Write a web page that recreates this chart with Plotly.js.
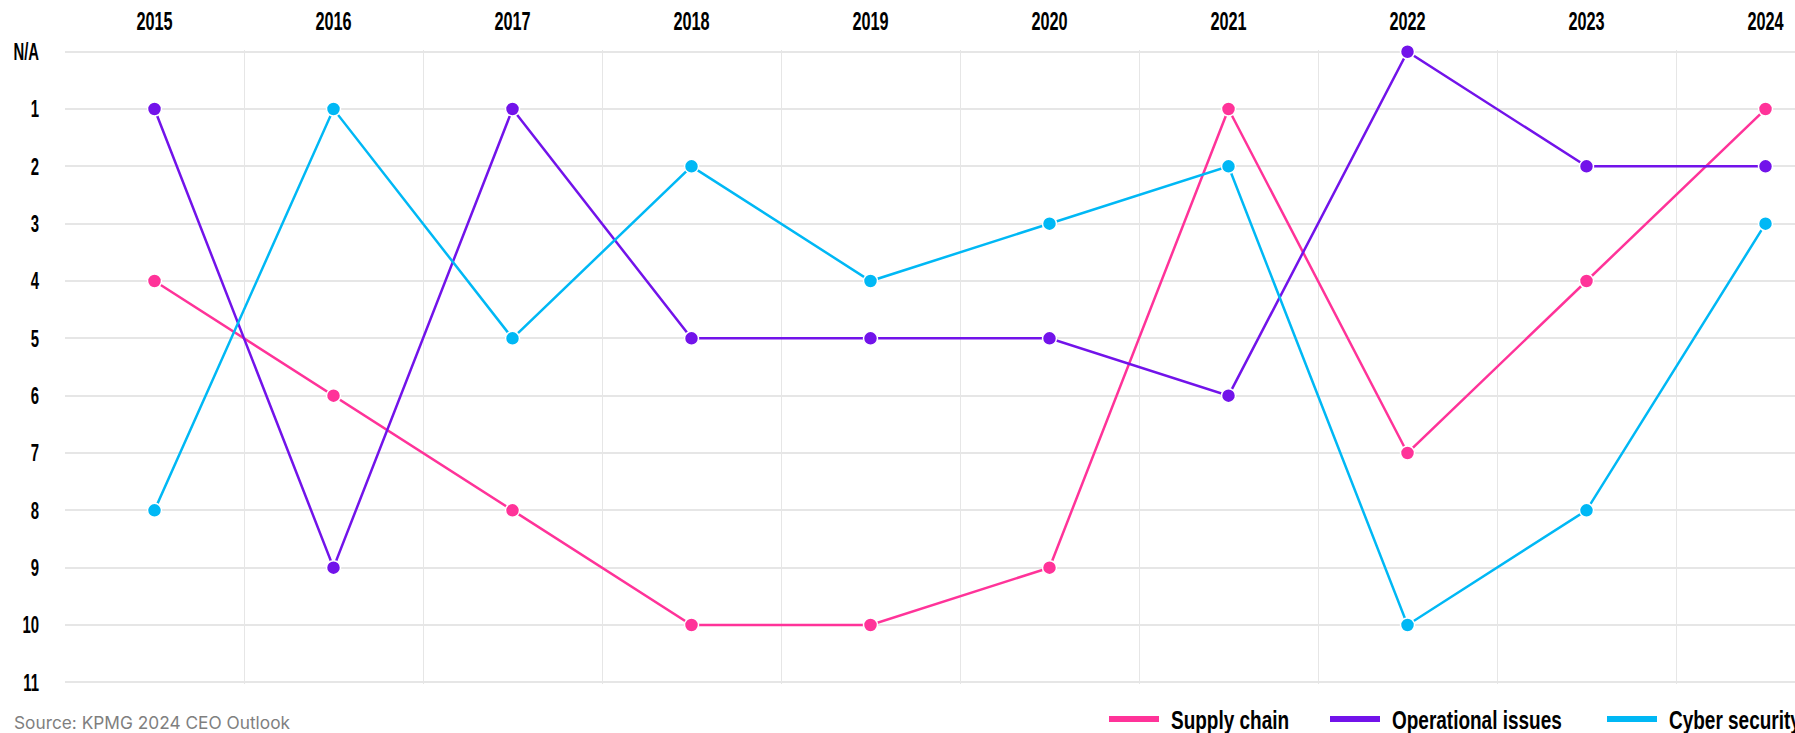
<!DOCTYPE html>
<html>
<head>
<meta charset="utf-8">
<script src="https://cdn.plot.ly/plotly-3.0.1.min.js"></script>
<style>
html,body{margin:0;padding:0;overflow:hidden;background:#fff;width:1795px;height:733px;}
#chart{width:1860px;height:733px;}
#chart text.legendtext, #chart text.legend2text, #chart text.legend3text{transform-box:fill-box;transform-origin:0% 50%;transform:scaleX(0.73);}
</style>
</head>
<body>
<div id="chart"></div>
<script>
// Data (rank; 0 = N/A)
const years = [2015, 2016, 2017, 2018, 2019, 2020, 2021, 2022, 2023, 2024];
const supplyChain = [4, 6, 8, 10, 10, 9, 1, 7, 4, 1];
const operationalIssues = [1, 9, 1, 5, 5, 5, 6, 0, 2, 2];
const cyberSecurity = [8, 1, 5, 2, 4, 3, 2, 10, 8, 3];
const rankVals = [0, 1, 2, 3, 4, 5, 6, 7, 8, 9, 10, 11];
const rankLabels = ["N/A", "1", "2", "3", "4", "5", "6", "7", "8", "9", "10", "11"];
const seriesNames = ["Supply chain", "Operational issues", "Cyber security"];
const colors = ["#ff3399", "#7213ea", "#00b8f5"];

const W = 1860, H = 733;
const boldFont = '"Liberation Sans", Arial, sans-serif';

const series = [supplyChain, operationalIssues, cyberSecurity];
const legendPx = [1104, 1325, 1602];
const legendKeys = ["legend", "legend2", "legend3"];

const traces = [];
series.forEach((vals, i) => {
  traces.push({
    type: "scatter",
    mode: "lines+markers",
    x: years,
    y: vals,
    name: seriesNames[i],
    showlegend: false,
    line: {color: colors[i], width: 2.5},
    marker: {color: colors[i], size: 14, line: {color: "#ffffff", width: 1.5}},
    cliponaxis: false,
    hoverinfo: "x+y+name"
  });
});
series.forEach((vals, i) => {
  traces.push({
    type: "scatter",
    mode: "lines",
    x: [null],
    y: [null],
    name: seriesNames[i],
    legend: legendKeys[i],
    showlegend: true,
    line: {color: colors[i], width: 6},
    hoverinfo: "skip"
  });
});

const legendBase = {
  orientation: "h",
  xref: "container",
  yref: "container",
  y: 1 - 719 / H,
  yanchor: "middle",
  xanchor: "left",
  bgcolor: "rgba(0,0,0,0)",
  font: {family: boldFont, size: 26, color: "#000000", weight: 700},
  itemwidth: 57,
  tracegroupgap: 0
};

const layout = {
  width: W,
  height: H,
  margin: {l: 65, r: 5, t: 50, b: 49},
  paper_bgcolor: "#ffffff",
  plot_bgcolor: "#ffffff",
  showlegend: true,
  hovermode: "closest",
  legend: Object.assign({}, legendBase, {x: legendPx[0] / W}),
  legend2: Object.assign({}, legendBase, {x: legendPx[1] / W}),
  legend3: Object.assign({}, legendBase, {x: legendPx[2] / W}),
  xaxis: {
    side: "top",
    range: [2014.5, 2024.5],
    tickvals: years,
    ticktext: years.map(String),
    showgrid: false,
    zeroline: false,
    showline: false,
    ticks: "",
    ticklabelstandoff: 14,
    tickfont: {family: boldFont, size: 25, color: "#000000", weight: 700},
    minor: {tick0: 2014.5, dtick: 1, showgrid: true, gridcolor: "#e6e6e6", gridwidth: 1, ticks: ""}
  },
  yaxis: {
    range: [11.03, -0.03],
    tickvals: rankVals,
    ticktext: rankLabels,
    showgrid: true,
    gridcolor: "#e6e6e6",
    gridwidth: 1.5,
    zeroline: false,
    showline: false,
    ticks: "",
    ticklabelstandoff: 25,
    tickfont: {family: boldFont, size: 24, color: "#000000", weight: 700}
  },
  annotations: [{
    xref: "paper", yref: "paper",
    x: (12 - 65) / 1790, y: -38 / 634,
    xanchor: "left", yanchor: "middle",
    showarrow: false,
    text: "Source: KPMG 2024 CEO Outlook",
    font: {family: "Inter, 'Liberation Sans', sans-serif", size: 17.3, color: "#7f7f7f"}
  }]
};

// Condense bold tick text to mimic the narrow display face of the original
const gd = document.getElementById("chart");
function condense() {
  const apply = (sel, f) => {
    gd.querySelectorAll(sel).forEach(t => {
      const key = t.textContent;
      if (t.getAttribute("textLength") && t.dataset.ck === key) return;
      t.removeAttribute("textLength");
      const w = t.getComputedTextLength();
      if (w > 0) {
        t.dataset.ck = key;
        t.setAttribute("textLength", (w * f).toFixed(1));
        t.setAttribute("lengthAdjust", "spacingAndGlyphs");
      }
    });
  };
  apply(".xtick text", 0.65);
  apply(".ytick text", 0.62);
  gd.querySelectorAll(".legendlines path").forEach(p => {
    if (p.getAttribute("d") !== "M5,0h50") p.setAttribute("d", "M5,0h50");
  });
}

const observer = new MutationObserver(() => condense());
observer.observe(gd, {childList: true, subtree: true});

Plotly.newPlot(gd, traces, layout, {displayModeBar: false, responsive: false}).then(() => {
  condense();
  gd.on("plotly_afterplot", condense);
  [0, 50, 150, 400, 800].forEach(ms => setTimeout(condense, ms));
});
</script>
</body>
</html>
